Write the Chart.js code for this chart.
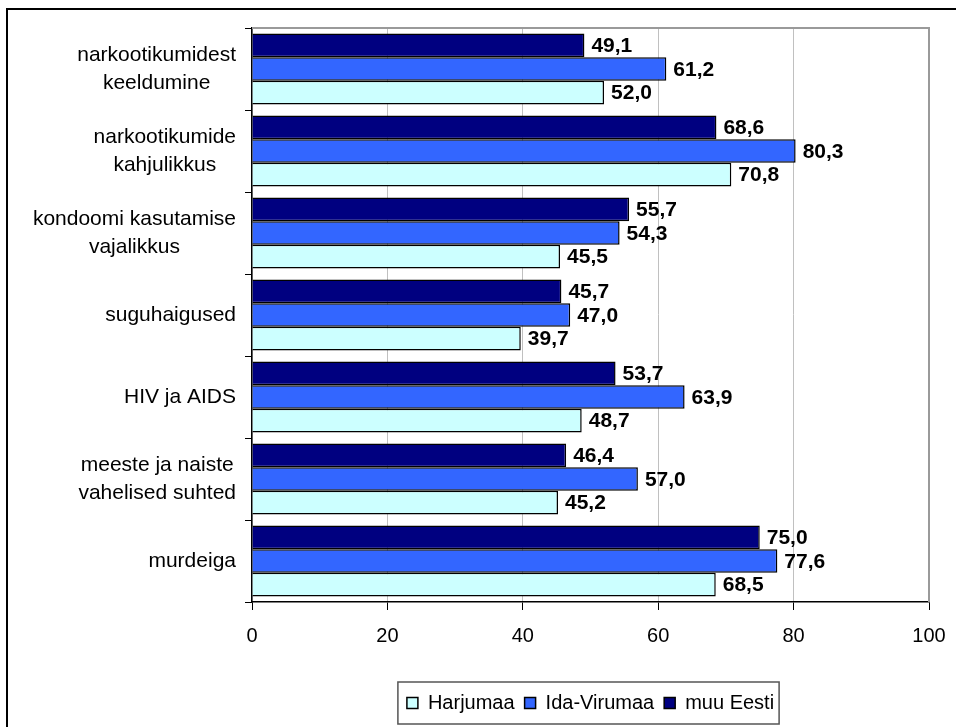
<!DOCTYPE html>
<html>
<head>
<meta charset="utf-8">
<script src="https://cdn.jsdelivr.net/npm/chart.js@4.4.0/dist/chart.umd.min.js"></script>
<style>
  html, body { margin: 0; padding: 0; background: #fff; }
  #wrap { width: 956px; height: 727px; }
</style>
</head>
<body>
<div id="wrap"><canvas id="myChart" width="956" height="727"></canvas></div>
<script>
// teemad (y-telje sildid), mitmerealised
const teemad = [
  ['narkootikumidest', 'keeldumine'],
  ['narkootikumide', 'kahjulikkus'],
  ['kondoomi kasutamise', 'vajalikkus'],
  ['suguhaigused'],
  ['HIV ja AIDS'],
  ['meeste ja naiste', 'vahelised suhted'],
  ['murdeiga']
];

const harjumaa   = [52.0, 70.8, 45.5, 39.7, 48.7, 45.2, 68.5];
const idaVirumaa = [61.2, 80.3, 54.3, 47.0, 63.9, 57.0, 77.6];
const muuEesti   = [49.1, 68.6, 55.7, 45.7, 53.7, 46.4, 75.0];

const xMin = 0;
const xMax = 100;
const xSamm = 20;

const font = 'Arial, "Liberation Sans", sans-serif';

const raam = {
  id: 'raam',
  beforeDraw(chart) {
    const c = chart.ctx;
    c.save();
    c.fillStyle = '#fff';
    c.fillRect(0, 0, chart.width, chart.height);
    c.strokeStyle = '#000';
    c.lineWidth = 2;
    c.beginPath();
    c.moveTo(7, chart.height);
    c.lineTo(7, 9);
    c.lineTo(chart.width, 9);
    c.stroke();
    c.restore();
  },
  afterDraw(chart) {
    const c = chart.ctx;
    const a = chart.chartArea;
    c.save();
    // joonise ala ülemine ja parem serv
    c.strokeStyle = '#9a9a9a';
    c.lineWidth = 2;
    c.beginPath();
    c.moveTo(a.left, a.top);
    c.lineTo(a.right, a.top);
    c.lineTo(a.right, a.bottom);
    c.stroke();

    // y-telje sildid: read keskel, plokk paremale joondatud
    const y = chart.scales.y;
    c.fillStyle = '#000';
    c.font = '21px ' + font;
    c.textAlign = 'center';
    c.textBaseline = 'middle';
    teemad.forEach((read, i) => {
      const laius = Math.max(...read.map(r => c.measureText(r).width));
      const kx = 236 - laius / 2;
      const ky = y.getPixelForValue(i);
      read.forEach((r, j) => {
        c.fillText(r, kx, ky + (j - (read.length - 1) / 2) * 28);
      });
    });

    // legendi raam
    const hb = chart.legend.legendHitBoxes;
    if (hb && hb.length) {
      const l = Math.min(...hb.map(h => h.left)) - 9;
      const r = Math.max(...hb.map(h => h.left + h.width)) + 5;
      const t = hb[0].top - 11;
      const b = hb[0].top + hb[0].height + 11;
      c.strokeStyle = '#555';
      c.lineWidth = 1.5;
      c.strokeRect(l, t, r - l, b - t);
    }
    c.restore();
  }
};

const vaartused = {
  id: 'vaartused',
  afterDatasetsDraw(chart) {
    const c = chart.ctx;
    c.save();
    c.fillStyle = '#000';
    c.font = 'bold 21px ' + font;
    c.textAlign = 'left';
    c.textBaseline = 'middle';
    chart.data.datasets.forEach((ds, di) => {
      const meta = chart.getDatasetMeta(di);
      meta.data.forEach((bar, i) => {
        const tekst = ds.data[i].toFixed(1).replace('.', ',');
        c.fillText(tekst, bar.x + 7, bar.y + 1);
      });
    });
    c.restore();
  }
};

const ctx = document.getElementById('myChart').getContext('2d');
const myChart = new Chart(ctx, {
  type: 'bar',
  data: {
    labels: teemad.map(t => t.join(' ')),
    datasets: [
      { label: 'muu Eesti', data: muuEesti, backgroundColor: '#000080', borderColor: '#000', borderWidth: 1.5 },
      { label: 'Ida-Virumaa', data: idaVirumaa, backgroundColor: '#3366ff', borderColor: '#000', borderWidth: 1.5 },
      { label: 'Harjumaa', data: harjumaa, backgroundColor: '#ccffff', borderColor: '#000', borderWidth: 1.5 }
    ]
  },
  options: {
    indexAxis: 'y',
    responsive: false,
    animation: false,
    devicePixelRatio: 1,
    layout: { padding: { top: 28, right: 27, bottom: 4, left: 0 } },
    datasets: {
      bar: { categoryPercentage: 0.866, barPercentage: 1 }
    },
    scales: {
      x: {
        min: xMin,
        max: xMax,
        ticks: { stepSize: xSamm, color: '#000', padding: 14, font: { family: font, size: 20 } },
        grid: { color: '#c0c0c0', tickColor: '#000', tickLength: 8, lineWidth: 1 },
        border: { color: '#000', width: 1.5 },
        afterFit(scale) {
          scale.height = 81;
          scale.paddingRight = 0;
          scale.paddingLeft = 0;
        }
      },
      y: {
        ticks: { display: false },
        grid: { drawOnChartArea: false, tickColor: '#000', tickLength: 7 },
        border: { color: '#000', width: 1.5 },
        afterFit(scale) { scale.width = 252; }
      }
    },
    plugins: {
      legend: {
        position: 'bottom',
        fullSize: false,
        reverse: true,
        labels: {
          color: '#000',
          boxWidth: 11,
          boxHeight: 11,
          padding: 10,
          font: { family: font, size: 20 }
        }
      },
      tooltip: { enabled: false },
      title: { display: false }
    }
  },
  plugins: [raam, vaartused]
});
</script>
</body>
</html>
